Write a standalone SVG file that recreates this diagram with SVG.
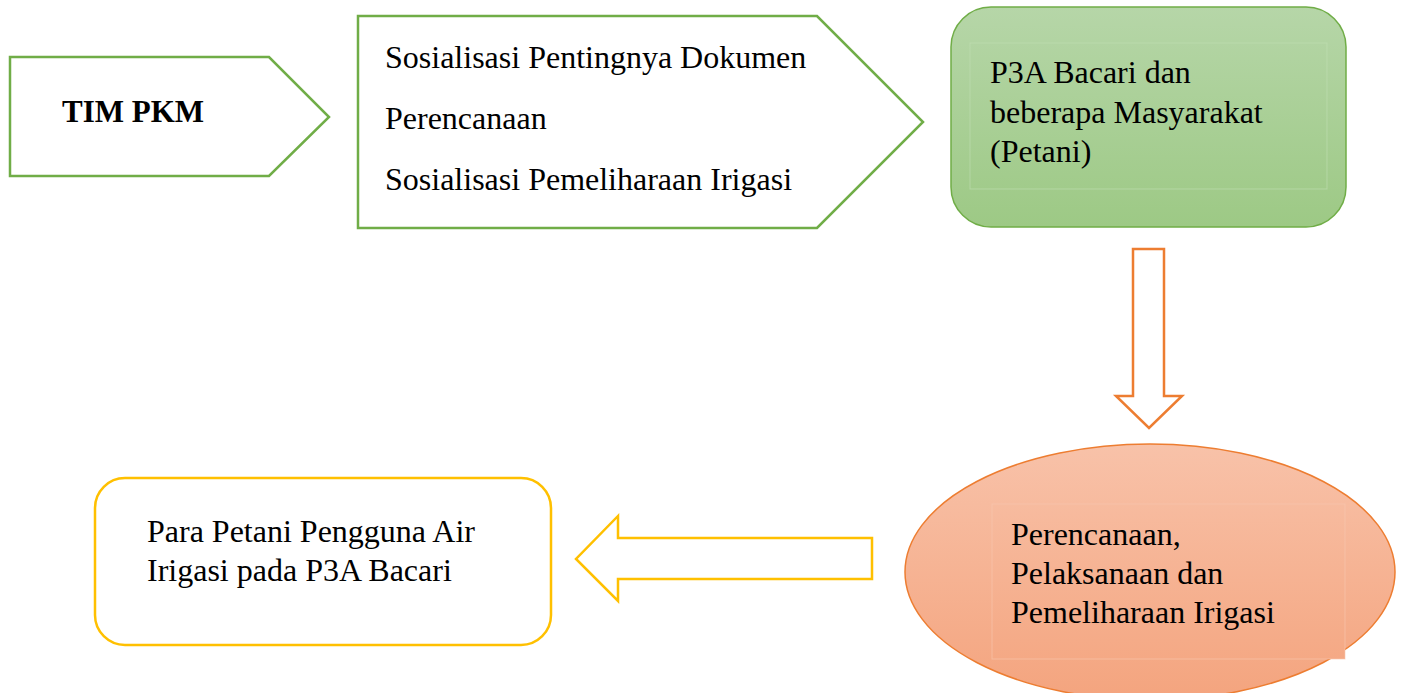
<svg xmlns="http://www.w3.org/2000/svg" width="1402" height="693" viewBox="0 0 1402 693">
<style>
  .t { font-family: "Liberation Serif", "Times New Roman", serif; font-size: 32px; fill: #000; }
  .tb { font-family: "Liberation Serif", "Times New Roman", serif; font-size: 31px; font-weight: bold; fill: #000; }
  .green { fill: #fff; stroke: #70ad47; stroke-width: 2.5; }
  .orange { fill: #fff; stroke: #ed7d31; stroke-width: 2.5; }
  .yellow { fill: #fff; stroke: #ffc000; stroke-width: 2.5; }
</style>
<defs>
  <linearGradient id="gGreen" x1="0" y1="0" x2="0" y2="1">
    <stop offset="0" stop-color="#b6d6a8"/>
    <stop offset="1" stop-color="#9dc985"/>
  </linearGradient>
  <linearGradient id="gOrange" x1="0" y1="0" x2="0" y2="1">
    <stop offset="0" stop-color="#f8c2a9"/>
    <stop offset="1" stop-color="#f4a47e"/>
  </linearGradient>
  <linearGradient id="gOrangeIn" gradientUnits="userSpaceOnUse" x1="0" y1="444" x2="0" y2="700">
    <stop offset="0" stop-color="#f8c2a9"/>
    <stop offset="1" stop-color="#f4a47e"/>
  </linearGradient>
</defs>

<g id="tim-pkm">
  <polygon class="green" points="10,57 269,57 329,117 269,176 10,176"/>
  <text class="tb" x="62" y="122">TIM PKM</text>
</g>

<g id="sosialisasi">
  <polygon class="green" points="358,16 817,16 923,122 817,228 358,228"/>
  <text class="t" x="385" y="68">Sosialisasi Pentingnya Dokumen</text>
  <text class="t" x="385" y="129">Perencanaan</text>
  <text class="t" x="385" y="190">Sosialisasi Pemeliharaan Irigasi</text>
</g>

<g id="p3a">
  <rect x="951" y="7" width="395" height="220" rx="40" ry="40" fill="url(#gGreen)" stroke="#70ad47" stroke-width="1.5"/>
  <rect x="970" y="43" width="357" height="146" fill="none" stroke="#c3e0b4" stroke-opacity="0.6" stroke-width="1"/>
  <text class="t" x="990" y="83">P3A Bacari dan</text>
  <text class="t" x="990" y="123">beberapa Masyarakat</text>
  <text class="t" x="990" y="162">(Petani)</text>
</g>

<g id="perencanaan">
  <ellipse cx="1150" cy="572" rx="245" ry="128" fill="url(#gOrange)" stroke="#ed7d31" stroke-width="1.5"/>
  <rect x="992" y="504" width="353" height="155" fill="url(#gOrangeIn)" stroke="#f9c9b0" stroke-opacity="0.6" stroke-width="1"/>
  <text class="t" x="1011" y="545">Perencanaan,</text>
  <text class="t" x="1011" y="584">Pelaksanaan dan</text>
  <text class="t" x="1011" y="623">Pemeliharaan Irigasi</text>
</g>

<g id="para-petani">
  <rect x="95" y="478" width="456" height="167" rx="30" ry="30" class="yellow"/>
  <text class="t" x="147" y="542">Para Petani Pengguna Air</text>
  <text class="t" x="147" y="581">Irigasi pada P3A Bacari</text>
</g>

<g id="connectors">
  <polygon class="orange" points="1133,249 1164,249 1164,396 1182,396 1149,428 1116,396 1133,396"/>
  <polygon class="yellow" points="872,538 618,538 618,516 576,559 618,601 618,579 872,579"/>
</g>
</svg>
